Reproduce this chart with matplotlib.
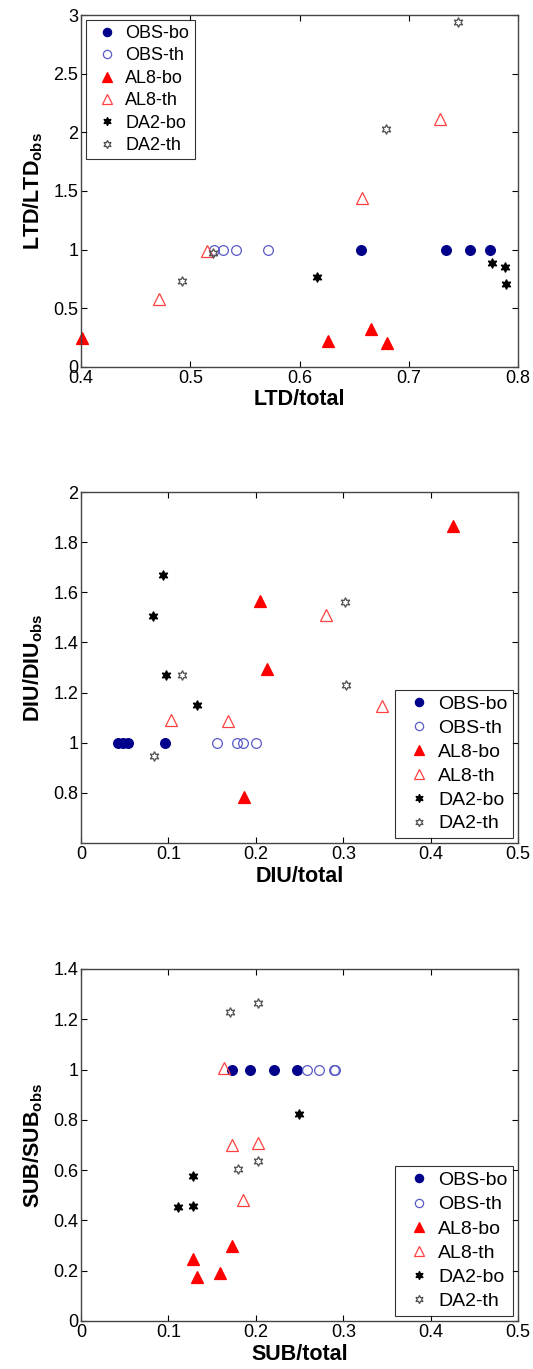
import numpy as np
import matplotlib
matplotlib.use('Agg')
import matplotlib.pyplot as plt

plt.rcParams['font.family'] = ['Liberation Sans', 'DejaVu Sans']
plt.rcParams['mathtext.fontset'] = 'custom'
plt.rcParams['mathtext.rm'] = 'Liberation Sans'
plt.rcParams['mathtext.bf'] = 'Liberation Sans:bold'

labels = ['OBS-bo', 'OBS-th', 'AL8-bo', 'AL8-th', 'DA2-bo', 'DA2-th']

# LTD panel
ltd_obs_bo_x = [0.656, 0.734, 0.756, 0.774]
ltd_obs_bo_y = [1, 1, 1, 1]
ltd_obs_th_x = [0.522, 0.530, 0.542, 0.571]
ltd_obs_th_y = [1, 1, 1, 1]
ltd_al8_bo_x = [0.401, 0.626, 0.665, 0.680]
ltd_al8_bo_y = [0.25, 0.22, 0.32, 0.20]
ltd_al8_th_x = [0.471, 0.515, 0.657, 0.729]
ltd_al8_th_y = [0.58, 0.99, 1.44, 2.11]
ltd_da2_bo_x = [0.616, 0.776, 0.788, 0.789]
ltd_da2_bo_y = [0.77, 0.89, 0.85, 0.71]
ltd_da2_th_x = [0.492, 0.521, 0.679, 0.745]
ltd_da2_th_y = [0.73, 0.97, 2.03, 2.94]

# DIU panel
diu_obs_bo_x = [0.042, 0.048, 0.054, 0.096]
diu_obs_bo_y = [1, 1, 1, 1]
diu_obs_th_x = [0.156, 0.179, 0.185, 0.200]
diu_obs_th_y = [1, 1, 1, 1]
diu_al8_bo_x = [0.205, 0.426, 0.213, 0.186]
diu_al8_bo_y = [1.564, 1.863, 1.296, 0.784]
diu_al8_th_x = [0.280, 0.103, 0.168, 0.344]
diu_al8_th_y = [1.511, 1.089, 1.087, 1.147]
diu_da2_bo_x = [0.094, 0.082, 0.097, 0.133]
diu_da2_bo_y = [1.668, 1.506, 1.269, 1.151]
diu_da2_th_x = [0.302, 0.116, 0.303, 0.083]
diu_da2_th_y = [1.560, 1.269, 1.229, 0.949]

# SUB panel
sub_obs_bo_x = [0.1725, 0.1935, 0.221, 0.247]
sub_obs_bo_y = [1, 1, 1, 1]
sub_obs_th_x = [0.258, 0.272, 0.289, 0.291]
sub_obs_th_y = [1, 1, 1, 1]
sub_al8_bo_x = [0.128, 0.133, 0.159, 0.173]
sub_al8_bo_y = [0.247, 0.176, 0.189, 0.299]
sub_al8_th_x = [0.164, 0.173, 0.203, 0.185]
sub_al8_th_y = [1.005, 0.699, 0.709, 0.480]
sub_da2_bo_x = [0.249, 0.1285, 0.111, 0.128]
sub_da2_bo_y = [0.825, 0.577, 0.452, 0.459]
sub_da2_th_x = [0.171, 0.203, 0.180, 0.203]
sub_da2_th_y = [1.229, 1.264, 0.603, 0.637]

# marker style per series: marker, size, face, edge
styles = [
    ('o', 7, '#00008b', '#00008b'),
    ('o', 7, 'none', '#5a5ac8'),
    ('^', 8, '#ff0000', '#ff0000'),
    ('^', 8, 'none', '#ff4040'),
    ((6, 1, 0), 7, 'black', 'black'),
    ((6, 1, 0), 7, 'none', '#505050'),
]


def panel(ax, series, xlim, ylim, xticks, yticks, xlabel, ylabel, loc, legsize, legspace):
    for (x, y), (m, s, fc, ec), lab in zip(series, styles, labels):
        ax.plot(x, y, linestyle='none', marker=m, markersize=s, markerfacecolor=fc,
                markeredgecolor=ec, markeredgewidth=0.9, label=lab, clip_on=False)
    ax.set_xlim(xlim)
    ax.set_ylim(ylim)
    ax.set_xticks(xticks)
    ax.set_yticks(yticks)
    ax.set_xticklabels([f'{t:g}' for t in xticks])
    ax.set_yticklabels([f'{t:g}' for t in yticks])
    ax.tick_params(direction='in', top=True, right=True, length=4, labelsize=13, pad=2)
    for sp in ax.spines.values():
        sp.set_color('#444444')
        sp.set_linewidth(1.0)
    ax.set_xlabel(xlabel, fontsize=15.5, fontweight='bold', labelpad=2)
    ax.set_ylabel(ylabel, fontsize=15.5, fontweight='bold', labelpad=6)
    leg = ax.legend(loc=loc, fontsize=legsize, handlelength=1.8, handletextpad=0.1,
                    borderpad=0.3, labelspacing=legspace, fancybox=False, numpoints=1,
                    borderaxespad=0.25, markerscale=0.85)
    leg.get_frame().set_edgecolor('black')
    leg.get_frame().set_linewidth(0.8)


fig = plt.figure(figsize=(5.33, 13.69), dpi=100)

ax1 = fig.add_axes([0.152, 0.732, 0.820, 0.257])
panel(ax1,
      [(ltd_obs_bo_x, ltd_obs_bo_y), (ltd_obs_th_x, ltd_obs_th_y),
       (ltd_al8_bo_x, ltd_al8_bo_y), (ltd_al8_th_x, ltd_al8_th_y),
       (ltd_da2_bo_x, ltd_da2_bo_y), (ltd_da2_th_x, ltd_da2_th_y)],
      (0.4, 0.8), (0, 3), [0.4, 0.5, 0.6, 0.7, 0.8], [0, 0.5, 1, 1.5, 2, 2.5, 3],
      'LTD/total', r'LTD/LTD$_{\mathbf{obs}}$', 'upper left', 13, 0.3)

ax2 = fig.add_axes([0.152, 0.3842, 0.820, 0.2564])
panel(ax2,
      [(diu_obs_bo_x, diu_obs_bo_y), (diu_obs_th_x, diu_obs_th_y),
       (diu_al8_bo_x, diu_al8_bo_y), (diu_al8_th_x, diu_al8_th_y),
       (diu_da2_bo_x, diu_da2_bo_y), (diu_da2_th_x, diu_da2_th_y)],
      (0, 0.5), (0.6, 2), [0, 0.1, 0.2, 0.3, 0.4, 0.5], [0.8, 1, 1.2, 1.4, 1.6, 1.8, 2],
      'DIU/total', r'DIU/DIU$_{\mathbf{obs}}$', 'lower right', 14, 0.32)

ax3 = fig.add_axes([0.152, 0.0351, 0.820, 0.2571])
panel(ax3,
      [(sub_obs_bo_x, sub_obs_bo_y), (sub_obs_th_x, sub_obs_th_y),
       (sub_al8_bo_x, sub_al8_bo_y), (sub_al8_th_x, sub_al8_th_y),
       (sub_da2_bo_x, sub_da2_bo_y), (sub_da2_th_x, sub_da2_th_y)],
      (0, 0.5), (0, 1.4), [0, 0.1, 0.2, 0.3, 0.4, 0.5], [0, 0.2, 0.4, 0.6, 0.8, 1, 1.2, 1.4],
      'SUB/total', r'SUB/SUB$_{\mathbf{obs}}$', 'lower right', 14, 0.34)

fig.savefig('out.png', dpi=100)
